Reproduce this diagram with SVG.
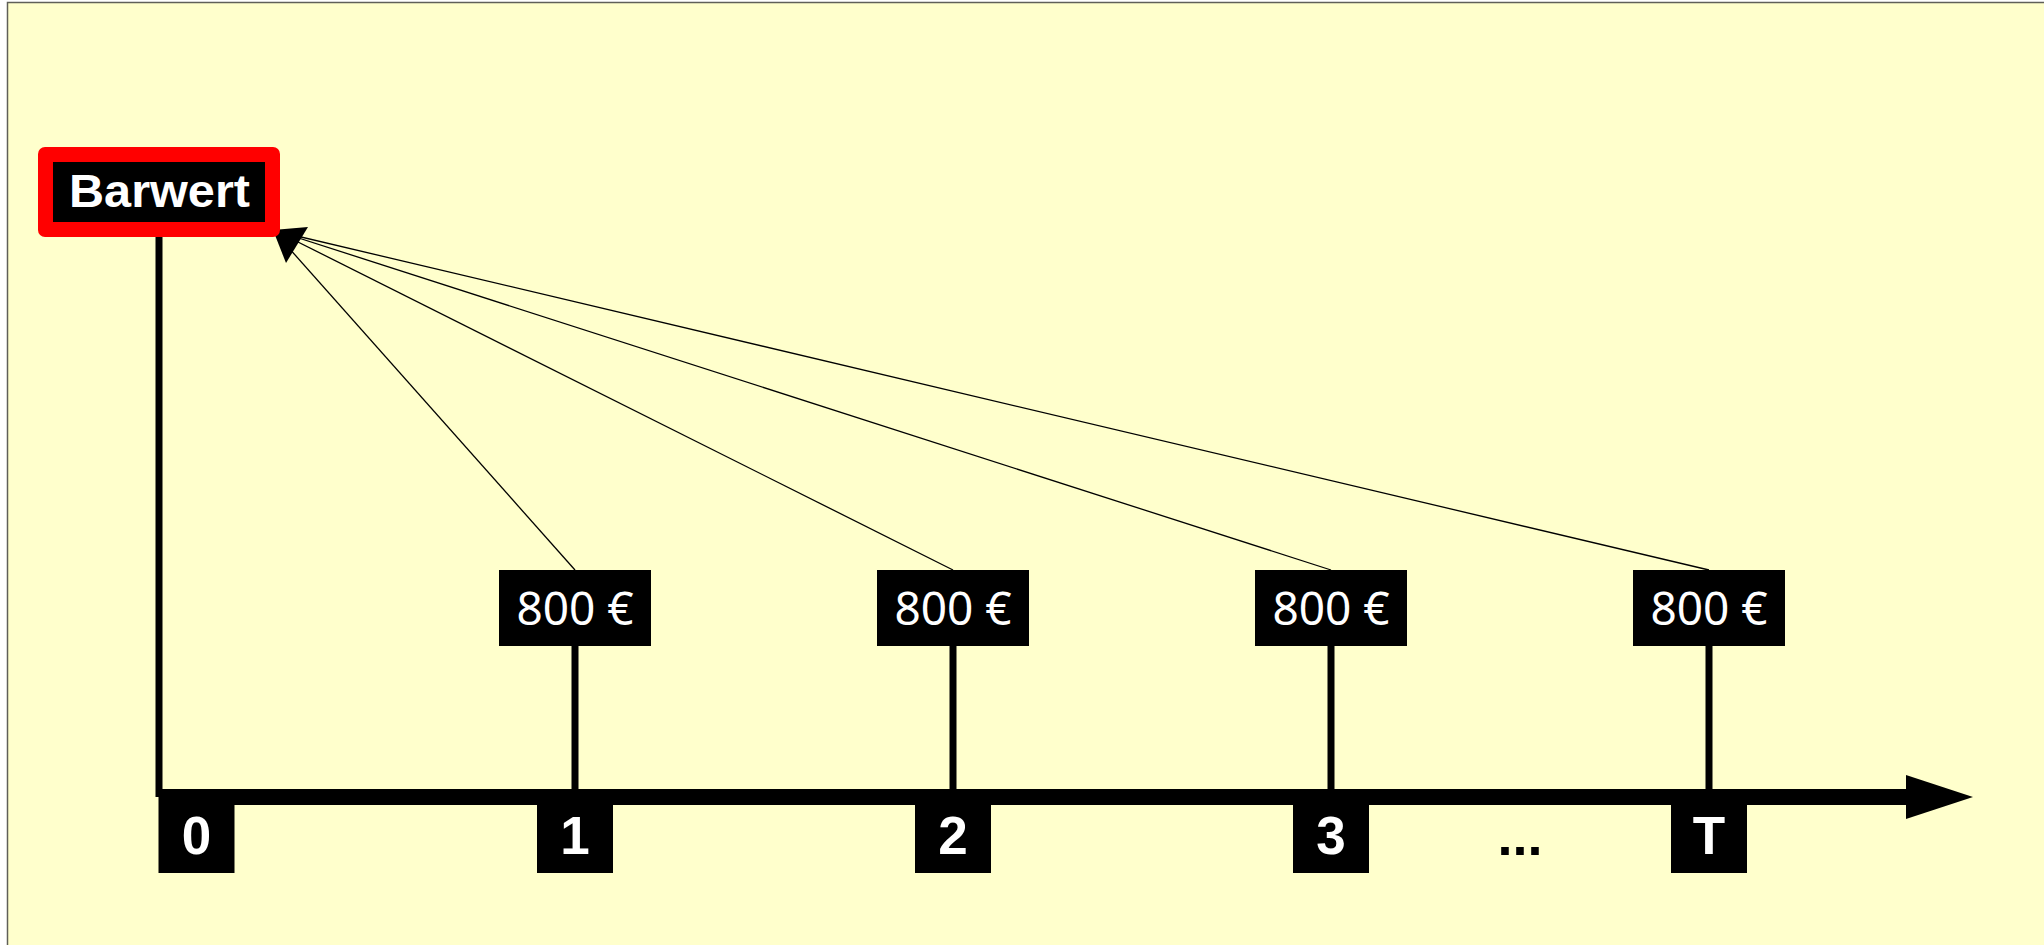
<svg xmlns="http://www.w3.org/2000/svg" width="2044" height="945" viewBox="0 0 2044 945">
<style>
.bold{font-family:"Liberation Sans",Arial,sans-serif;font-weight:bold;fill:#fff;text-anchor:middle}
.amt{font-family:"Noto Sans","Open Sans",sans-serif;font-size:46px;fill:#fff;text-anchor:middle}
.tick{stroke:#000;stroke-width:7}
.flow{stroke:#000;stroke-width:1.3;fill:none}
</style>
<rect x="0" y="0" width="2044" height="945" fill="#fff"/>
<rect x="7.5" y="2.5" width="2100" height="1000" fill="#FFFFCC" stroke="#5f5f58" stroke-width="1.5"/>
<g id="connectors">
  <line class="tick" x1="159" y1="237" x2="159" y2="797"/>
  <line x1="159" y1="797" x2="1908" y2="797" stroke="#000" stroke-width="16"/>
  <polygon points="1906,775 1973,797 1906,819" fill="#000"/>
  <line class="tick" x1="575" y1="646" x2="575" y2="797"/>
  <line class="tick" x1="953" y1="646" x2="953" y2="797"/>
  <line class="tick" x1="1331" y1="646" x2="1331" y2="797"/>
  <line class="tick" x1="1709" y1="646" x2="1709" y2="797"/>
  <line class="flow" x1="575" y1="570" x2="280" y2="238"/>
  <line class="flow" x1="953" y1="570" x2="280" y2="233"/>
  <line class="flow" x1="1331" y1="570" x2="280" y2="232"/>
  <line class="flow" x1="1709" y1="570" x2="280" y2="232"/>
  <polygon points="273,230 308,227 286,263" fill="#000"/>
</g>
<g id="barwert">
  <rect x="38" y="147" width="242" height="90" rx="7" fill="#FF0000"/>
  <rect x="53" y="162" width="212" height="60" fill="#000"/>
  <text class="bold" x="159.5" y="207" font-size="46" textLength="181" lengthAdjust="spacingAndGlyphs">Barwert</text>
</g>
<g id="cf1">
  <rect x="499" y="570" width="152" height="76" fill="#000"/>
  <text class="amt" x="575" y="625">800 €</text>
</g>
<g id="cf2">
  <rect x="877" y="570" width="152" height="76" fill="#000"/>
  <text class="amt" x="953" y="625">800 €</text>
</g>
<g id="cf3">
  <rect x="1255" y="570" width="152" height="76" fill="#000"/>
  <text class="amt" x="1331" y="625">800 €</text>
</g>
<g id="cf4">
  <rect x="1633" y="570" width="152" height="76" fill="#000"/>
  <text class="amt" x="1709" y="625">800 €</text>
</g>
<g id="t0">
  <rect x="158.5" y="797" width="76" height="76" fill="#000"/>
  <text class="bold" x="196.5" y="854" font-size="53">0</text>
</g>
<g id="t1">
  <rect x="537" y="797" width="76" height="76" fill="#000"/>
  <text class="bold" x="575" y="854" font-size="53">1</text>
</g>
<g id="t2">
  <rect x="915" y="797" width="76" height="76" fill="#000"/>
  <text class="bold" x="953" y="854" font-size="53">2</text>
</g>
<g id="t3">
  <rect x="1293" y="797" width="76" height="76" fill="#000"/>
  <text class="bold" x="1331" y="854" font-size="53">3</text>
</g>
<g id="tdots">
  <text x="1520" y="855" font-family="Liberation Sans,Arial,sans-serif" font-weight="bold" font-size="54" text-anchor="middle" fill="#000">...</text>
</g>
<g id="tT">
  <rect x="1671" y="797" width="76" height="76" fill="#000"/>
  <text class="bold" x="1709" y="854" font-size="53">T</text>
</g>
</svg>
